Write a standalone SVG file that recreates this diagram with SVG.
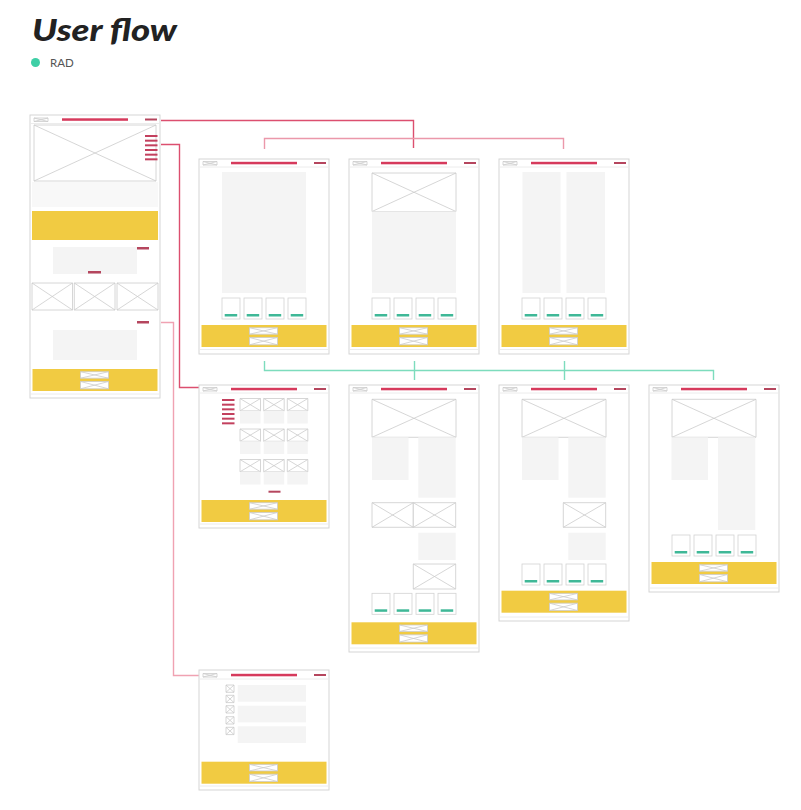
<svg xmlns="http://www.w3.org/2000/svg" xmlns:xlink="http://www.w3.org/1999/xlink" width="801" height="810" viewBox="0 0 801 810">
<style>
.pg{fill:#fff;stroke:#d5d5d5;stroke-width:1}
.hl{stroke:#ececec;stroke-width:1}
.ph{fill:#fff;stroke:#cbcbcb;stroke-width:0.8}
.bar{fill:#d63a5c}
.btn{fill:#b5465e}
.mn{fill:#c3405e}
.gr{fill:#f4f4f4}
.ye{fill:#f1cb42}
.cd{fill:#fff;stroke:#d2d2d2;stroke-width:0.8}
.tl{fill:#3fb897}
.cn{fill:none;stroke-width:1.4}
</style>
<defs>
<g id="hdr">
<path class="ph" d="M4 2.5h14v3.5h-14zl14 3.5m-14 0l14-3.5"/>
<rect class="bar" x="32" y="2.8" width="66" height="2.5"/>
<rect class="btn" x="115" y="3" width="12" height="2"/>
<line class="hl" x1="1" y1="8" x2="129" y2="8"/>
</g>
<g id="cards">
<rect class="cd" x="23" y="0" width="18" height="21"/><rect class="tl" x="25.7" y="16" width="12.5" height="2.5"/>
<rect class="cd" x="45" y="0" width="18" height="21"/><rect class="tl" x="47.7" y="16" width="12.5" height="2.5"/>
<rect class="cd" x="67" y="0" width="18" height="21"/><rect class="tl" x="69.7" y="16" width="12.5" height="2.5"/>
<rect class="cd" x="89" y="0" width="18" height="21"/><rect class="tl" x="91.7" y="16" width="12.5" height="2.5"/>
</g>
<g id="foot">
<rect class="ye" x="2.5" y="0" width="125" height="22"/>
<path class="ph" d="M50.5 2.7h28v6.5h-28zl28 6.5m-28 0l28-6.5"/>
<path class="ph" d="M50.5 12.5h28v7.3h-28zl28 7.3m-28 0l28-7.3"/>
</g>
<g id="menu">
<rect class="mn" x="0" y="0" width="12.5" height="2"/>
<rect class="mn" x="0" y="4.67" width="12.5" height="2"/>
<rect class="mn" x="0" y="9.33" width="12.5" height="2"/>
<rect class="mn" x="0" y="14" width="12.5" height="2"/>
<rect class="mn" x="0" y="18.67" width="12.5" height="2"/>
<rect class="mn" x="0" y="23.33" width="12.5" height="2"/>
</g>
</defs>
<rect width="801" height="810" fill="#fff"/>
<g id="title">
<text x="32" y="41" font-family="Lato, 'Open Sans', sans-serif" font-weight="900" font-style="italic" font-size="31" fill="#222" textLength="145" lengthAdjust="spacingAndGlyphs">User flow</text>
<circle cx="35.5" cy="62.5" r="4.5" fill="#3ecfa6"/>
<text x="50" y="66.5" font-family="Lato, 'Open Sans', sans-serif" font-size="11.5" fill="#555">RAD</text>
</g>
<g id="connectors">
<path class="cn" stroke="#dc4f6f" d="M161 120.5H413.5V148"/>
<path class="cn" stroke="#eb98aa" d="M264.5 149V138.5H563.5V149"/>
<path class="cn" stroke="#dc4f6f" d="M161 144.5H179.5V387.5H199"/>
<path class="cn" stroke="#f0a2b2" d="M161 322.5H173.5V675.5H199"/>
<path class="cn" stroke="#7ddcbd" d="M264.5 361V370.5H713.5V380M414.5 361V380M564.5 361V380"/>
</g>
<g id="page-home" transform="translate(30,115)">
<rect class="pg" x="0" y="0" width="130" height="283"/>
<use href="#hdr" y="0.5"/>
<path class="ph" d="M4 10h122v56h-122zl122 56m-122 0l122-56"/>
<use href="#menu" x="115" y="20"/>
<rect x="2" y="67" width="126" height="25" fill="#f8f8f8"/>
<rect class="ye" x="2" y="96" width="126" height="29"/>
<rect class="gr" x="23" y="132" width="84" height="27"/>
<rect class="btn" x="107" y="132" width="12" height="2.5"/>
<rect class="btn" x="58" y="156" width="13" height="2.5"/>
<path class="ph" d="M2 168h40.5v27h-40.5zl40.5 27m-40.5 0l40.5-27"/>
<path class="ph" d="M44.3 168h40.7v27h-40.7zl40.7 27m-40.7 0l40.7-27"/>
<path class="ph" d="M87 168h41v27h-41zl41 27m-41 0l41-27"/>
<rect class="btn" x="107" y="206" width="12" height="2.5"/>
<rect class="gr" x="23" y="215" width="84" height="30"/>
<use href="#foot" y="254"/>
<line class="hl" x1="1" y1="279" x2="129" y2="279"/>
</g>
<g id="page-a1" transform="translate(199,159)">
<rect class="pg" x="0" y="0" width="130" height="195"/>
<use href="#hdr"/>
<rect class="gr" x="23" y="13" width="84" height="121"/>
<use href="#cards" y="139"/>
<use href="#foot" y="166"/>
<line class="hl" x1="1" y1="190.5" x2="129" y2="190.5"/>
</g>
<g id="page-a2" transform="translate(349,159)">
<rect class="pg" x="0" y="0" width="130" height="195"/>
<use href="#hdr"/>
<path class="ph" d="M23 14h84v38.5h-84zl84 38.5m-84 0l84-38.5"/>
<rect class="gr" x="23" y="52.5" width="84" height="81.5"/>
<use href="#cards" y="139"/>
<use href="#foot" y="166"/>
<line class="hl" x1="1" y1="190.5" x2="129" y2="190.5"/>
</g>
<g id="page-a3" transform="translate(499,159)">
<rect class="pg" x="0" y="0" width="130" height="195"/>
<use href="#hdr"/>
<rect class="gr" x="23.5" y="13" width="38" height="121"/>
<rect class="gr" x="67.5" y="13" width="38.5" height="121"/>
<use href="#cards" y="139"/>
<use href="#foot" y="166"/>
<line class="hl" x1="1" y1="190.5" x2="129" y2="190.5"/>
</g>
<g id="page-b1" transform="translate(199,385)">
<rect class="pg" x="0" y="0" width="130" height="143"/>
<use href="#hdr"/>
<use href="#menu" x="23" y="14"/>
<path class="ph" d="M41 13.5h20.5v12.3h-20.5zl20.5 12.3m-20.5 0l20.5-12.3"/>
<path class="ph" d="M64.7 13.5h20.5v12.3h-20.5zl20.5 12.3m-20.5 0l20.5-12.3"/>
<path class="ph" d="M88.3 13.5h20.5v12.3h-20.5zl20.5 12.3m-20.5 0l20.5-12.3"/>
<rect class="gr" x="41" y="25.8" width="20.5" height="12.7"/>
<rect class="gr" x="64.7" y="25.8" width="20.5" height="12.7"/>
<rect class="gr" x="88.3" y="25.8" width="20.5" height="12.7"/>
<path class="ph" d="M41 44h20.5v12.3h-20.5zl20.5 12.3m-20.5 0l20.5-12.3"/>
<path class="ph" d="M64.7 44h20.5v12.3h-20.5zl20.5 12.3m-20.5 0l20.5-12.3"/>
<path class="ph" d="M88.3 44h20.5v12.3h-20.5zl20.5 12.3m-20.5 0l20.5-12.3"/>
<rect class="gr" x="41" y="56.3" width="20.5" height="12.7"/>
<rect class="gr" x="64.7" y="56.3" width="20.5" height="12.7"/>
<rect class="gr" x="88.3" y="56.3" width="20.5" height="12.7"/>
<path class="ph" d="M41 74.5h20.5v12.3h-20.5zl20.5 12.3m-20.5 0l20.5-12.3"/>
<path class="ph" d="M64.7 74.5h20.5v12.3h-20.5zl20.5 12.3m-20.5 0l20.5-12.3"/>
<path class="ph" d="M88.3 74.5h20.5v12.3h-20.5zl20.5 12.3m-20.5 0l20.5-12.3"/>
<rect class="gr" x="41" y="86.8" width="20.5" height="12.7"/>
<rect class="gr" x="64.7" y="86.8" width="20.5" height="12.7"/>
<rect class="gr" x="88.3" y="86.8" width="20.5" height="12.7"/>
<rect class="btn" x="69.5" y="105.7" width="12" height="2"/>
<use href="#foot" y="115"/>
<line class="hl" x1="1" y1="139" x2="129" y2="139"/>
</g>
<g id="page-b2" transform="translate(349,385)">
<rect class="pg" x="0" y="0" width="130" height="267"/>
<use href="#hdr"/>
<path class="ph" d="M23 14.3h84v38h-84zl84 38m-84 0l84-38"/>
<rect class="gr" x="23" y="52.3" width="36.5" height="42.7"/>
<rect class="gr" x="69.3" y="52.3" width="37.4" height="60.4"/>
<path class="ph" d="M23 117.7h41.3v24.6h-41.3zl41.3 24.6m-41.3 0l41.3-24.6"/>
<path class="ph" d="M64.3 117.7h42.4v24.6h-42.4zl42.4 24.6m-42.4 0l42.4-24.6"/>
<rect class="gr" x="69.3" y="147.7" width="37.4" height="27.3"/>
<path class="ph" d="M64.3 179h42.4v25h-42.4zl42.4 25m-42.4 0l42.4-25"/>
<use href="#cards" y="208.3"/>
<use href="#foot" y="237.3"/>
<line class="hl" x1="1" y1="263" x2="129" y2="263"/>
</g>
<g id="page-b3" transform="translate(499,385)">
<rect class="pg" x="0" y="0" width="130" height="236"/>
<use href="#hdr"/>
<path class="ph" d="M23 14.3h84v38h-84zl84 38m-84 0l84-38"/>
<rect class="gr" x="23" y="52.3" width="36.5" height="42.7"/>
<rect class="gr" x="69.3" y="52.3" width="37.4" height="60.4"/>
<path class="ph" d="M64.3 117.7h42.4v24.6h-42.4zl42.4 24.6m-42.4 0l42.4-24.6"/>
<rect class="gr" x="69.3" y="147.7" width="37.4" height="27.3"/>
<use href="#cards" y="179"/>
<use href="#foot" y="205.7"/>
<line class="hl" x1="1" y1="232" x2="129" y2="232"/>
</g>
<g id="page-b4" transform="translate(649,385)">
<rect class="pg" x="0" y="0" width="130" height="207"/>
<use href="#hdr"/>
<path class="ph" d="M23 14.3h84v38h-84zl84 38m-84 0l84-38"/>
<rect class="gr" x="22.5" y="52.3" width="36.5" height="42.7"/>
<rect class="gr" x="69" y="52.3" width="37.3" height="92.7"/>
<use href="#cards" y="150"/>
<use href="#foot" y="177"/>
<line class="hl" x1="1" y1="203" x2="129" y2="203"/>
</g>
<g id="page-c1" transform="translate(199,670)">
<rect class="pg" x="0" y="0" width="130" height="120"/>
<use href="#hdr" y="1"/>
<path class="ph" d="M27 15h8v7.3h-8zl8 7.3m-8 0l8-7.3"/>
<path class="ph" d="M27 25.3h8v7.3h-8zl8 7.3m-8 0l8-7.3"/>
<path class="ph" d="M27 35.7h8v7.3h-8zl8 7.3m-8 0l8-7.3"/>
<path class="ph" d="M27 46.7h8v7.3h-8zl8 7.3m-8 0l8-7.3"/>
<path class="ph" d="M27 57.3h8v7.3h-8zl8 7.3m-8 0l8-7.3"/>
<rect class="gr" x="38.7" y="15" width="68.3" height="16.7"/>
<rect class="gr" x="38.7" y="35.7" width="68.3" height="16.7"/>
<rect class="gr" x="38.7" y="56.3" width="68.3" height="16.7"/>
<use href="#foot" y="91.7"/>
<line class="hl" x1="1" y1="116" x2="129" y2="116"/>
</g>
</svg>
